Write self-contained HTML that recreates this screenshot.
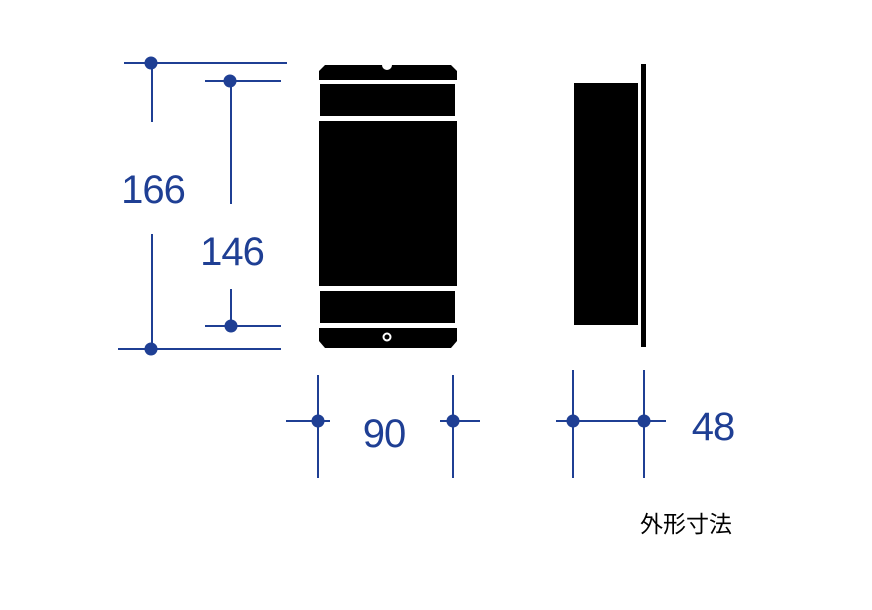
<!DOCTYPE html>
<html><head><meta charset="utf-8"><style>html,body{margin:0;padding:0;background:#fff}svg{display:block}</style></head>
<body>
<svg width="872" height="610" viewBox="0 0 872 610" xmlns="http://www.w3.org/2000/svg">
<rect width="872" height="610" fill="#fff"/>
<!-- front view -->
<g fill="#000">
<path d="M325,65 H382 A5,5 0 0 0 392,65 H451 L457,71 V80 H319 V71 Z"/>
<rect x="320" y="84" width="135" height="32"/>
<rect x="319" y="121" width="138" height="165"/>
<rect x="320" y="291" width="135" height="32"/>
<path d="M319,328 H457 V341 L451,348 H325 L319,341 Z"/>
</g>
<circle cx="387" cy="337" r="3.5" fill="none" stroke="#fff" stroke-width="2"/>
<!-- side view -->
<rect x="574" y="83" width="64" height="242" fill="#000"/>
<rect x="641" y="64" width="5" height="283" fill="#000"/>
<!-- dimensions -->
<g stroke="#1f3f94" stroke-width="2" fill="none">
<line x1="124" y1="63" x2="287" y2="63"/>
<line x1="152" y1="63" x2="152" y2="122"/>
<line x1="152" y1="234" x2="152" y2="349"/>
<line x1="118" y1="349" x2="281" y2="349"/>
<line x1="205" y1="81" x2="281" y2="81"/>
<line x1="231" y1="81" x2="231" y2="204"/>
<line x1="231" y1="289" x2="231" y2="326"/>
<line x1="205" y1="326" x2="281" y2="326"/>
<line x1="318" y1="375" x2="318" y2="478"/>
<line x1="453" y1="375" x2="453" y2="478"/>
<line x1="286" y1="421" x2="330" y2="421"/>
<line x1="440" y1="421" x2="480" y2="421"/>
<line x1="573" y1="370" x2="573" y2="478"/>
<line x1="644" y1="370" x2="644" y2="478"/>
<line x1="556" y1="421" x2="666" y2="421"/>
</g>
<g fill="#1f3f94">
<circle cx="151" cy="63" r="6.5"/>
<circle cx="151" cy="349" r="6.5"/>
<circle cx="230" cy="81" r="6.5"/>
<circle cx="231" cy="326" r="6.5"/>
<circle cx="318" cy="421" r="6.5"/>
<circle cx="453" cy="421" r="6.5"/>
<circle cx="573" cy="421" r="6.5"/>
<circle cx="644" cy="421" r="6.5"/>
</g>
<g fill="#1f3f94" font-family="Liberation Sans, sans-serif" font-size="40" text-anchor="middle" letter-spacing="-1">
<text x="153" y="203">166</text>
<text x="232" y="265">146</text>
<text x="384" y="447">90</text>
<text x="713" y="440">48</text>
</g>
<text x="686" y="532" font-family="Liberation Sans, 'Noto Sans CJK JP', sans-serif" font-size="23" text-anchor="middle" fill="#000">外形寸法</text>
</svg>
</body></html>
